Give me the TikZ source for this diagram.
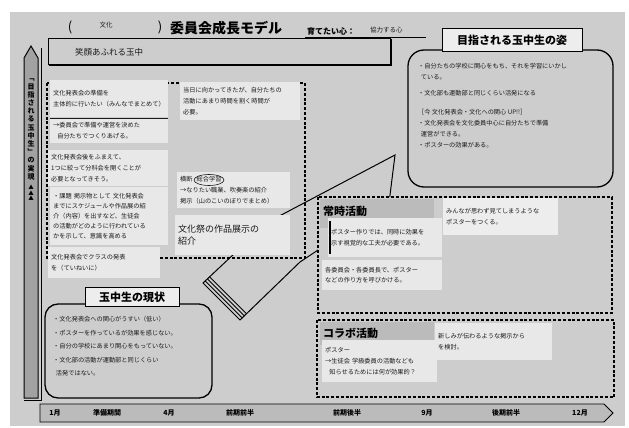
\documentclass[tikz,border=0pt]{standalone}
\usepackage{fontspec}
\setmainfont{Noto Sans CJK JP}
\usetikzlibrary{shapes.geometric}
\definecolor{pagec}{HTML}{CDCDCD}
\definecolor{stick}{HTML}{E8E8E8}
\definecolor{labelbg}{HTML}{BBBBBB}
\definecolor{barfill}{HTML}{A2A2A2}
\definecolor{ink}{HTML}{1A1A1A}
\definecolor{whitebox}{HTML}{EDEDED}
\newcommand\hwsmall{\fontsize{6.2}{10.8}\selectfont}
\newcommand\hwtext{\fontsize{6.2}{11}\selectfont}
\tikzset{
  sticky/.style={fill=stick, anchor=north west, align=left, inner sep=3pt, font=\hwsmall, text=ink},
  plain/.style={anchor=north west, align=left, inner sep=0pt, font=\hwtext, text=ink},
  dashbox/.style={draw=black, line width=1.3pt, dash pattern=on 3pt off 1.8pt},
  labelnode/.style={font=\bfseries\fontsize{11}{13}\selectfont, text=black},
  tline/.style={font=\bfseries\fontsize{7}{8}\selectfont, text=black},
  outline/.style={draw=black, line width=1pt}
}
\begin{document}
\begin{tikzpicture}[x=1pt,y=-1pt]
\useasboundingbox (0,0) rectangle (629,428);
\fill[white] (0,0) rectangle (629,428);
\fill[pagec] (10,12) rectangle (625,426);

% ---------- title ----------
\node[font=\fontsize{13}{14}\selectfont] (lp) at (70,27) {(};
\node[font=\fontsize{6.5}{7}\selectfont, text=ink] (iname) at (106,25) {文化};
\node[font=\fontsize{13}{14}\selectfont] (rp) at (160,27) {)};
\node[anchor=west, font=\bfseries\fontsize{14}{15}\selectfont, inner sep=0pt] (title) at (170,28) {委員会成長モデル};
\node[anchor=west, font=\bfseries\fontsize{8}{9}\selectfont, inner sep=0pt] (kokoro) at (307,31) {育てたい心：};
\node[anchor=west, font=\fontsize{6.5}{7}\selectfont, text=ink, inner sep=0pt] (kokorov) at (370,30) {協力する心};
\coordinate (ul1) at (305,37.5);
\coordinate (ul2) at (426,37.5);
\draw[line width=0.7pt] (ul1) -- (ul2);

% ---------- top box ----------
\draw[line width=0.8pt, fill=pagec] (48,38) rectangle (390,64);
\draw[line width=2pt] (49,65) -- (391,65) -- (391,39);
\node[anchor=west, font=\fontsize{8.5}{9}\selectfont, text=ink, inner sep=0pt] (egao) at (75,52) {笑顔あふれる玉中};

% ---------- left vertical bar ----------
\draw[line width=1pt, fill=barfill] (24,398) -- (24,58) -- (31,46) -- (38,58) -- (38,398) -- cycle;
\draw[line width=1pt] (41,48) -- (41,400) -- (24,400);
\node[font=\bfseries\fontsize{7}{8.2}\selectfont, align=center, inner sep=0pt, anchor=north] (vlabel) at (31,79)
  {﹁\\目\\指\\さ\\れ\\る\\玉\\中\\生\\﹂\\の\\実\\現};
\node[font=\fontsize{5.5}{5.6}\selectfont, align=center, inner sep=0pt, anchor=north] (tri) at (31,185) {▲\\▲\\▲};

% ---------- big arrow ----------
\draw[line width=1pt, fill=pagec, line join=miter]
  (203,283) -- (268,222) -- (395,155) -- (389,203) -- (300,262) -- (240,320) -- cycle;
\foreach \d in {3,6,9}{
  \draw[line width=0.8pt] (203+0.74*\d,283-0.67*\d) -- (240+0.74*\d,320-0.67*\d);
}

% ---------- dashed region ----------
\draw[dashbox] (47,83) rectangle (305,258);

% ---------- left stickies ----------
\node[sticky, minimum width=118pt, minimum height=37pt, text width=112pt] (s1) at (50,80)
  {文化発表会の準備を\\主体的に行いたい（みんなでまとめて）};
\node[sticky, minimum width=118pt, minimum height=25pt, text width=112pt] (s2) at (50,118)
  {→委員会で準備や運営を決めた\\\ \ 自分たちでつくりあげる。};
\draw[line width=0.6pt, ink] (50,118) -- (168,118);
\node[sticky, minimum width=120pt, minimum height=36pt, text width=114pt] (s3) at (48,150)
  {文化発表会後をふまえて、\\1つに絞って分科会を開くことが\\必要となってきそう。};
\node[sticky, minimum width=118pt, minimum height=58pt, text width=112pt, font=\fontsize{6.2}{10.2}\selectfont] (s4) at (50,187)
  {・課題 掲示物として 文化発表会\\までにスケジュールや作品展の紹\\介（内容）を出すなど、生徒会\\の活動がどのように行われている\\かを示して、意識を高める};
\node[sticky, minimum width=112pt, minimum height=31pt, text width=106pt] (s5) at (48,247)
  {文化発表会でクラスの発表\\を（ていねいに）};

% ---------- middle stickies ----------
\node[sticky, minimum width=120pt, minimum height=38pt, text width=114pt] (s6) at (180,82)
  {当日に向かってきたが、自分たちの\\活動にあまり時間を割く時間が\\必要。};
\node[sticky, minimum width=113pt, minimum height=36pt, text width=107pt] (s7) at (177,172)
  {横断\ \ 総合学習\\→なりたい職業、吹奏楽の紹介\\掲示（山のこいのぼりでまとめ）};
\draw[line width=0.6pt, ink] (209,180) ellipse [x radius=15, y radius=5.5];
\node[sticky, minimum width=115pt, minimum height=40pt, text width=109pt, font=\fontsize{9}{12}\selectfont] (s8) at (175,215)
  {文化祭の作品展示の\\紹介};

% ---------- goal box ----------
\draw[line width=1.3pt, fill=pagec, rounded corners=16pt] (408,50) rectangle (613,187);
\node[labelnode, draw=black, line width=1pt, fill=whitebox, minimum width=140pt, minimum height=23pt, inner sep=2pt] (goallab) at (512,40.5) {目指される玉中生の姿};
\node[plain] (goaltxt) at (418,63)
  {・自分たちの学校に関心をもち、それを学習にいかし\\\ \ ている。\\[5pt]・文化部も運動部と同じくらい活発になる\\[8pt]［今 文化発表会・文化への関心 UP!!］\\・文化発表会を文化委員中心に自分たちで準備\\\ \ 運営ができる。\\・ポスターの効果がある。};

% ---------- 常時活動 ----------
\draw[dashbox, fill=pagec] (318,197) rectangle (612,313);
\fill[labelbg] (320,199) rectangle (434,228);
\node[labelnode, anchor=west, inner sep=0pt] (joji) at (323,211) {常時活動};
\node[sticky, minimum width=114pt, minimum height=39pt, text width=108pt] (c1) at (328,218)
  {ポスター作りでは、同時に効果を\\示す視覚的な工夫が必要である。};
\draw[line width=1.6pt] (330,221) -- (330,254);
\node[sticky, fill=whitebox, minimum width=115pt, minimum height=37pt, text width=109pt] (c2) at (443,198)
  {みんなが思わず見てしまうような\\ポスターをつくる。};
\node[sticky, minimum width=120pt, minimum height=30pt, text width=114pt] (c3) at (322,260)
  {各委員会・各委員長で、ポスター\\などの作り方を呼びかける。};

% ---------- コラボ活動 ----------
\draw[dashbox, fill=pagec] (317,320) rectangle (614,397);
\fill[labelbg] (320,322) rectangle (434,345);
\node[labelnode, anchor=west, inner sep=0pt] (collab) at (323,333) {コラボ活動};
\node[sticky, minimum width=115pt, minimum height=42pt, text width=109pt] (d1) at (322,340)
  {ポスター\\→生徒会 学級委員の活動なども\\\ \ 知らせるためには何が効果的？};
\node[sticky, minimum width=117pt, minimum height=37pt, text width=111pt] (d2) at (435,323)
  {新しみが伝わるような掲示から\\を検討。};

% ---------- 玉中生の現状 ----------
\draw[line width=1.3pt, fill=pagec, rounded corners=13pt] (45,304) rectangle (212,398);
\node[labelnode, draw=black, line width=1pt, fill=whitebox, minimum width=94pt, minimum height=19pt, inner sep=2pt, font=\bfseries\fontsize{11}{12}\selectfont] (nowlab) at (132,297) {玉中生の現状};
\node[plain, font=\fontsize{6.2}{13.5}\selectfont] (nowtxt) at (53,316)
  {・文化発表会への関心がうすい（低い）\\・ポスターを作っているが効果を感じない。\\・自分の学校にあまり関心をもっていない。\\・文化部の活動が運動部と同じくらい\\\ \ 活発ではない。};

% ---------- timeline ----------
\draw[line width=0.9pt, fill=labelbg] (40,404) -- (604,404) -- (613,413) -- (604,422) -- (40,422) -- cycle;
\node[tline] (t1) at (55,413) {1月};
\node[tline] (t2) at (107,413) {準備期間};
\node[tline] (t3) at (169,413) {4月};
\node[tline] (t4) at (240,413) {前期前半};
\node[tline] (t5) at (347,413) {前期後半};
\node[tline] (t6) at (427,413) {9月};
\node[tline] (t7) at (506,413) {後期前半};
\node[tline] (t8) at (580,413) {12月};
\end{tikzpicture}
\end{document}
